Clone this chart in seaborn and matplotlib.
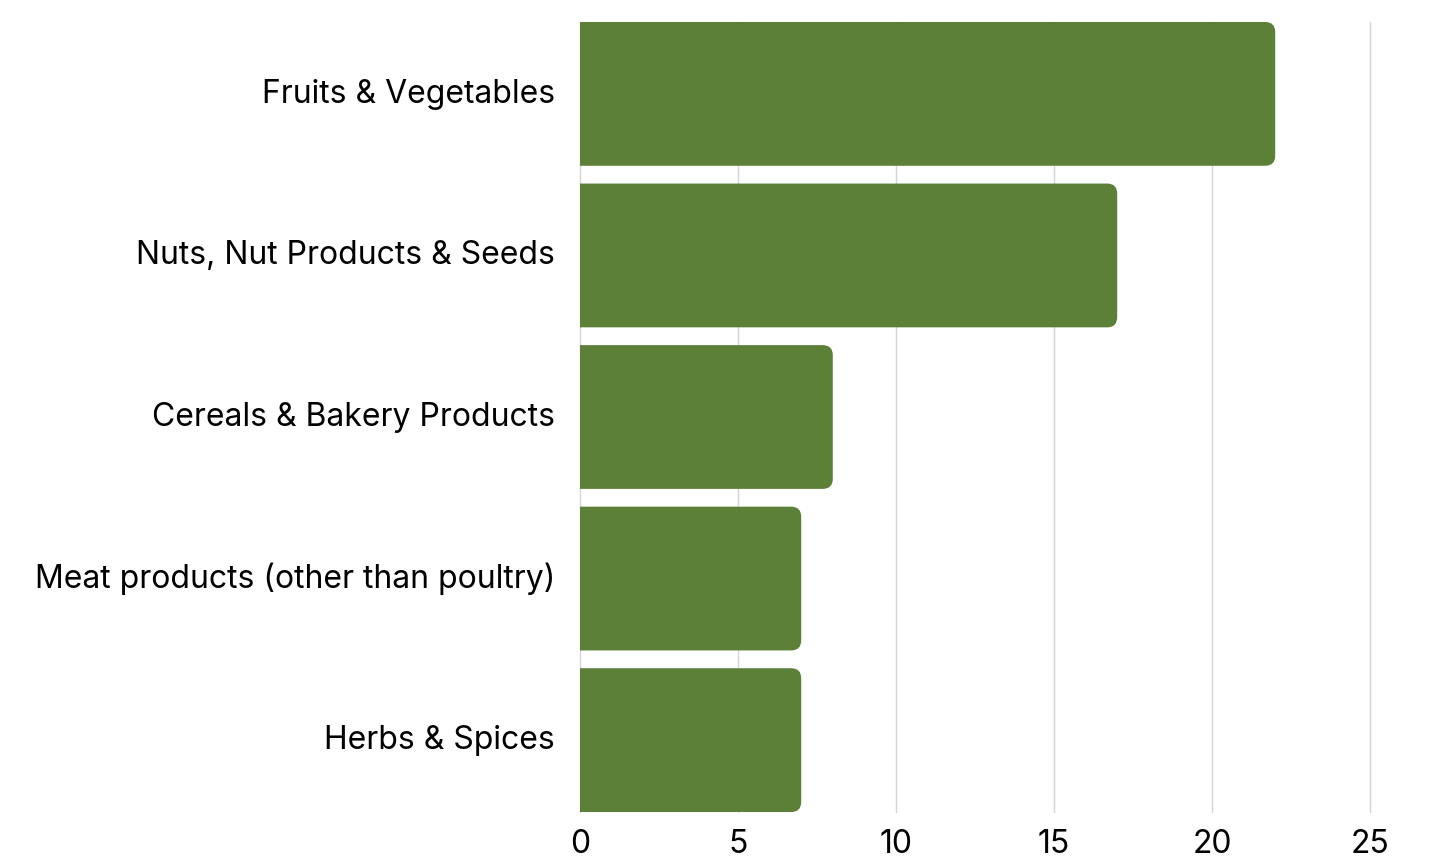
import matplotlib
matplotlib.use("Agg")
import matplotlib.pyplot as plt
import matplotlib.transforms as mtransforms
import seaborn as sns
import pandas as pd
from matplotlib.patches import FancyBboxPatch

categories = [
    "Fruits & Vegetables",
    "Nuts, Nut Products & Seeds",
    "Cereals & Bakery Products",
    "Meat products (other than poultry)",
    "Herbs & Spices",
]
counts = [22, 17, 8, 7, 7]
x_ticks = [0, 5, 10, 15, 20, 25]

df = pd.DataFrame({"category": categories, "count": counts})

sns.set_style("white")
plt.rcParams["font.family"] = ["Inter", "DejaVu Sans"]

fig = plt.figure(figsize=(14.3, 8.67), dpi=100)
ax = fig.add_axes([580 / 1430, 1 - 812 / 867, 790 / 1430, 790 / 867])

bar_w = 0.89
sns.barplot(data=df, x="count", y="category", color="#5d8039",
            width=bar_w, saturation=1, ax=ax, zorder=2)

ax.set_xlim(0, 25)
ax.set_ylim(len(categories) - 1 + bar_w / 2, -bar_w / 2)

# swap plain bars for bars with rounded right corners
fig.canvas.draw()
px_x = ax.transData.transform((1, 0))[0] - ax.transData.transform((0, 0))[0]
px_y = abs(ax.transData.transform((0, 1))[1] - ax.transData.transform((0, 0))[1])
radius_px = 10
rx = radius_px / px_x
ry = radius_px / px_y
for p in list(ax.patches):
    x0, y0 = p.get_x(), p.get_y()
    w, h = p.get_width(), p.get_height()
    fc = p.get_facecolor()
    p.remove()
    box = FancyBboxPatch((x0 - 2 * rx, y0), w + 2 * rx, h,
                         boxstyle=f"round,pad=0,rounding_size={rx}",
                         mutation_aspect=ry / rx,
                         facecolor=fc, edgecolor="none", zorder=2)
    ax.add_patch(box)

ax.set_xticks(x_ticks)
ax.grid(axis="x", color="#d4d4d4", linewidth=1, zorder=0)
ax.grid(axis="y", visible=False)
for gl in ax.get_xgridlines():
    gl.set_clip_on(False)
ax.set_axisbelow(True)
for s in ax.spines.values():
    s.set_visible(False)
ax.tick_params(axis="both", length=0, labelsize=23, colors="black")
ax.tick_params(axis="y", pad=18)
ax.tick_params(axis="x", pad=12)
ax.set_xlabel("")
ax.set_ylabel("")

# nudge the category labels up a little
shift = mtransforms.ScaledTranslation(0, 3 / 100, fig.dpi_scale_trans)
for lbl in ax.get_yticklabels():
    lbl.set_transform(lbl.get_transform() + shift)

fig.savefig("out.png", dpi=100)
